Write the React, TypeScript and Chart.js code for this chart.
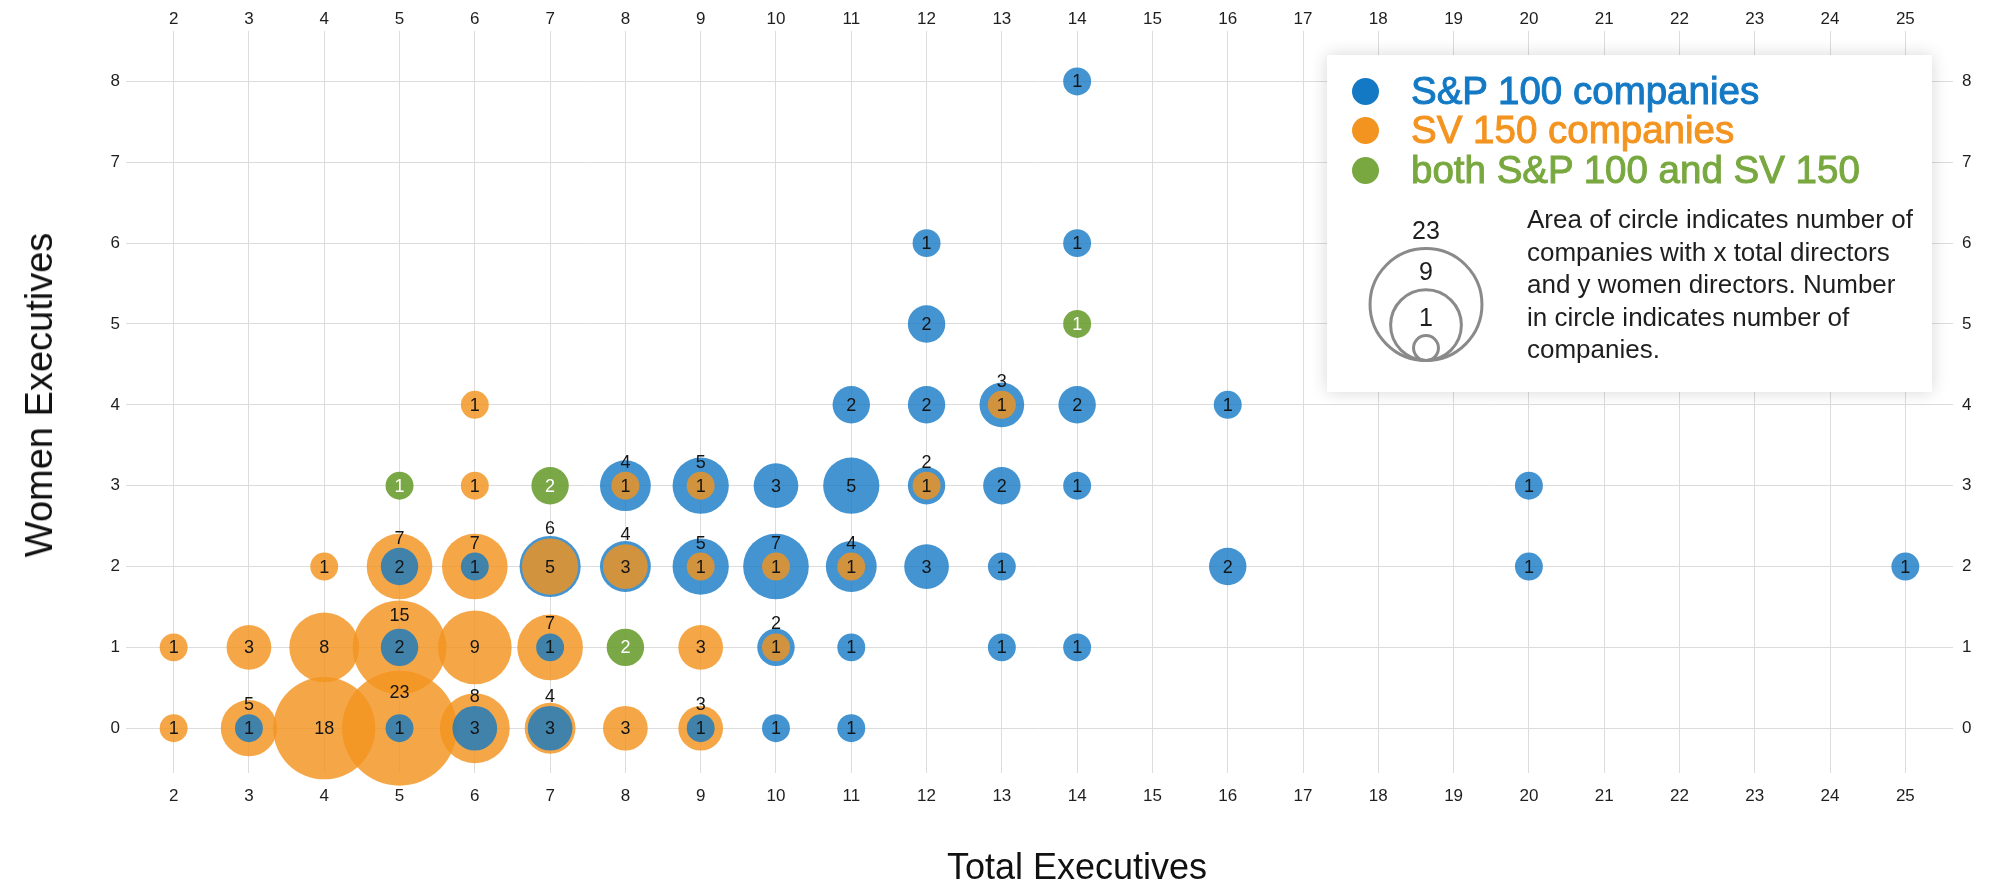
import React, { useEffect, useRef } from "react";
import { Chart, registerables } from "chart.js";

Chart.register(...registerables);

// ---------- data ----------
const xTickValues = [2, 3, 4, 5, 6, 7, 8, 9, 10, 11, 12, 13, 14, 15, 16, 17, 18, 19, 20, 21, 22, 23, 24, 25];
const yTickValues = [0, 1, 2, 3, 4, 5, 6, 7, 8];

// [total executives, women executives, number of companies]
const sp100Points: [number, number, number][] = [
  [14, 8, 1],
  [12, 6, 1], [14, 6, 1],
  [12, 5, 2],
  [11, 4, 2], [12, 4, 2], [13, 4, 3], [14, 4, 2], [16, 4, 1],
  [8, 3, 4], [9, 3, 5], [10, 3, 3], [11, 3, 5], [12, 3, 2], [13, 3, 2], [14, 3, 1], [20, 3, 1],
  [5, 2, 2], [6, 2, 1], [7, 2, 6], [8, 2, 4], [9, 2, 5], [10, 2, 7], [11, 2, 4], [12, 2, 3], [13, 2, 1], [16, 2, 2], [20, 2, 1], [25, 2, 1],
  [5, 1, 2], [7, 1, 1], [10, 1, 2], [11, 1, 1], [13, 1, 1], [14, 1, 1],
  [3, 0, 1], [5, 0, 1], [6, 0, 3], [7, 0, 3], [9, 0, 1], [10, 0, 1], [11, 0, 1],
];

const sv150Points: [number, number, number][] = [
  [6, 4, 1], [13, 4, 1],
  [6, 3, 1], [8, 3, 1], [9, 3, 1], [12, 3, 1],
  [4, 2, 1], [5, 2, 7], [6, 2, 7], [7, 2, 5], [8, 2, 3], [9, 2, 1], [10, 2, 1], [11, 2, 1],
  [2, 1, 1], [3, 1, 3], [4, 1, 8], [5, 1, 15], [6, 1, 9], [7, 1, 7], [9, 1, 3], [10, 1, 1],
  [2, 0, 1], [3, 0, 5], [4, 0, 18], [5, 0, 23], [6, 0, 8], [7, 0, 4], [8, 0, 3], [9, 0, 3],
];

const bothPoints: [number, number, number][] = [
  [14, 5, 1], [5, 3, 1], [7, 3, 2], [8, 1, 2],
];

const seriesLabels = ["S&P 100 companies", "SV 150 companies", "both S&P 100 and SV 150"];
const seriesSolid = ["#1479c4", "#f39420", "#78a83f"];
const seriesFill = ["rgba(20,121,196,0.8)", "rgba(243,148,32,0.82)", "rgba(104,156,44,0.88)"];
const seriesText = ["#151515", "#151515", "#ffffff"];

const sizeLegendCounts = [23, 9, 1];
const legendNote = [
  "Area of circle indicates number of",
  "companies with x total directors",
  "and y women directors. Number",
  "in circle indicates number of",
  "companies.",
];

const FONT = '"Liberation Sans", Arial, Helvetica, sans-serif';

// bubble radius (px) from company count: area encodes count
function radiusFor(n: number) {
  return 2.5 + 11.46 * Math.sqrt(n);
}

type BubblePt = { x: number; y: number; r: number; n: number; s: number };

function buildPoints(): BubblePt[] {
  const all: BubblePt[] = [];
  [sp100Points, sv150Points, bothPoints].forEach((list, s) => {
    list.forEach(([x, y, n]) => all.push({ x, y, r: radiusFor(n), n, s }));
  });
  // larger bubbles first so smaller ones are drawn on top
  all.sort((a, b) => b.r - a.r);
  return all;
}

const labelPlugin = {
  id: "bubbleLabels",
  afterDatasetsDraw(chart: any) {
    const pts: BubblePt[] = chart.data.datasets[0].data;
    const xs = chart.scales.x;
    const ys = chart.scales.y;
    const groups = new Map<string, BubblePt[]>();
    pts.forEach((p) => {
      const k = p.x + "," + p.y;
      if (!groups.has(k)) groups.set(k, []);
      groups.get(k)!.push(p);
    });
    const ctx = chart.ctx;
    ctx.save();
    ctx.font = "18px " + FONT;
    ctx.textAlign = "center";
    ctx.textBaseline = "middle";
    groups.forEach((g) => {
      g.sort((a, b) => b.r - a.r);
      const cx = xs.getPixelForValue(g[0].x);
      const cy = ys.getPixelForValue(g[0].y);
      if (g.length === 1) {
        ctx.fillStyle = seriesText[g[0].s];
        ctx.fillText(String(g[0].n), cx, cy + 1);
      } else {
        const outer = g[0];
        const inner = g[g.length - 1];
        const off = Math.max((outer.r + inner.r) / 2, inner.r + 10);
        ctx.fillStyle = "#151515";
        ctx.fillText(String(outer.n), cx, cy - off + 1);
        ctx.fillStyle = seriesText[inner.s];
        ctx.fillText(String(inner.n), cx, cy + 1);
      }
    });
    ctx.restore();
  },
};

const GRID = "#dcdcdc";
const tickFont = { family: FONT, size: 17 };

function xAxis(position: "top" | "bottom", onArea: boolean, height: number, padding: number) {
  return {
    type: "linear",
    position,
    min: 1.5,
    max: 25.5,
    afterBuildTicks: (s: any) => {
      s.ticks = xTickValues.map((v) => ({ value: v }));
    },
    afterFit: (s: any) => {
      s.height = height;
    },
    grid: { color: GRID, lineWidth: 1, tickLength: 10, drawOnChartArea: onArea },
    border: { display: false },
    ticks: { font: tickFont, color: "#1e1e1e", padding, maxRotation: 0, autoSkip: false },
  };
}

function yAxis(position: "left" | "right", onArea: boolean, width: number, padding: number) {
  return {
    type: "linear",
    position,
    min: -0.43,
    max: 8.5,
    afterBuildTicks: (s: any) => {
      s.ticks = yTickValues.map((v) => ({ value: v }));
    },
    afterFit: (s: any) => {
      s.width = width;
    },
    grid: { color: GRID, lineWidth: 1, tickLength: 10, drawOnChartArea: onArea },
    border: { display: false },
    ticks: { font: tickFont, color: "#1e1e1e", padding, autoSkip: false },
  };
}

export default function App() {
  const ref = useRef<HTMLCanvasElement | null>(null);

  useEffect(() => {
    if (!ref.current) return;
    const chart = new Chart(ref.current, {
      type: "bubble",
      data: {
        datasets: [
          {
            data: buildPoints() as any,
            backgroundColor: (c: any) => (c.raw ? seriesFill[c.raw.s] : "#999"),
            borderWidth: 0,
            hoverRadius: 0,
            clip: false as any,
          } as any,
        ],
      },
      options: {
        responsive: false,
        animation: false,
        devicePixelRatio: 1,
        events: [],
        layout: { padding: 0, autoPadding: false },
        plugins: { legend: { display: false }, tooltip: { enabled: false }, title: { display: false } },
        scales: {
          x: xAxis("bottom", true, 124, 13) as any,
          x2: xAxis("top", false, 41, 1) as any,
          y: yAxis("left", true, 136, 6) as any,
          y2: yAxis("right", false, 58, 9) as any,
        },
      },
      plugins: [labelPlugin as any],
    });
    return () => chart.destroy();
  }, []);

  const dotY = [36, 75, 115];
  const circleBottom = 307;
  const circleCx = 99;

  return (
    <div style={{ position: "fixed", left: 0, top: 0, width: 2001, height: 887, background: "#fff", overflow: "hidden", fontFamily: FONT }}>
      <canvas ref={ref} width={2001} height={887} style={{ position: "absolute", left: 0, top: 0, width: 2001, height: 887 }} />

      {/* axis titles */}
      <div
        style={{
          position: "absolute",
          left: 39,
          top: 395,
          transform: "translate(-50%, -50%) rotate(-90deg)",
          fontSize: 38,
          lineHeight: 1,
          whiteSpace: "nowrap",
          color: "#111",
        }}
      >
        Women Executives
      </div>
      <div
        style={{
          position: "absolute",
          left: 1077,
          top: 867,
          transform: "translate(-50%, -50%)",
          fontSize: 36,
          lineHeight: 1,
          whiteSpace: "nowrap",
          color: "#111",
        }}
      >
        Total Executives
      </div>

      {/* legend */}
      <div
        style={{
          position: "absolute",
          left: 1327,
          top: 55,
          width: 605,
          height: 337,
          background: "#fff",
          boxShadow: "0 0 16px rgba(0,0,0,0.16)",
        }}
      >
        {seriesLabels.map((lab, i) => (
          <React.Fragment key={lab}>
            <div
              style={{
                position: "absolute",
                left: 38 - 13.5,
                top: dotY[i] - 13.5,
                width: 27,
                height: 27,
                borderRadius: "50%",
                background: seriesSolid[i],
              }}
            />
            <div
              style={{
                position: "absolute",
                left: 84,
                top: dotY[i],
                transform: "translateY(-50%)",
                fontSize: 38.5,
                lineHeight: 1,
                whiteSpace: "nowrap",
                color: seriesSolid[i],
                WebkitTextStroke: `1px ${seriesSolid[i]}`,
              }}
            >
              {lab}
            </div>
          </React.Fragment>
        ))}

        <svg width={200} height={337} style={{ position: "absolute", left: 0, top: 0 }}>
          {sizeLegendCounts.map((n) => {
            const r = radiusFor(n) - 1.5;
            return <circle key={n} cx={circleCx} cy={circleBottom - 1.5 - r} r={r} fill="none" stroke="#8a8a8a" strokeWidth={3} />;
          })}
        </svg>
        {sizeLegendCounts.map((n) => {
          const top = circleBottom - 2 * radiusFor(n);
          return (
            <div
              key={"l" + n}
              style={{
                position: "absolute",
                left: circleCx,
                top: top - 17,
                transform: "translate(-50%, -50%)",
                fontSize: 25,
                lineHeight: 1,
                color: "#1e1e1e",
              }}
            >
              {n}
            </div>
          );
        })}
        <div
          style={{
            position: "absolute",
            left: 200,
            top: 148,
            fontSize: 26,
            lineHeight: "32.5px",
            whiteSpace: "nowrap",
            color: "#1e1e1e",
          }}
        >
          {legendNote.map((t, i) => (
            <div key={i}>{t}</div>
          ))}
        </div>
      </div>
    </div>
  );
}
